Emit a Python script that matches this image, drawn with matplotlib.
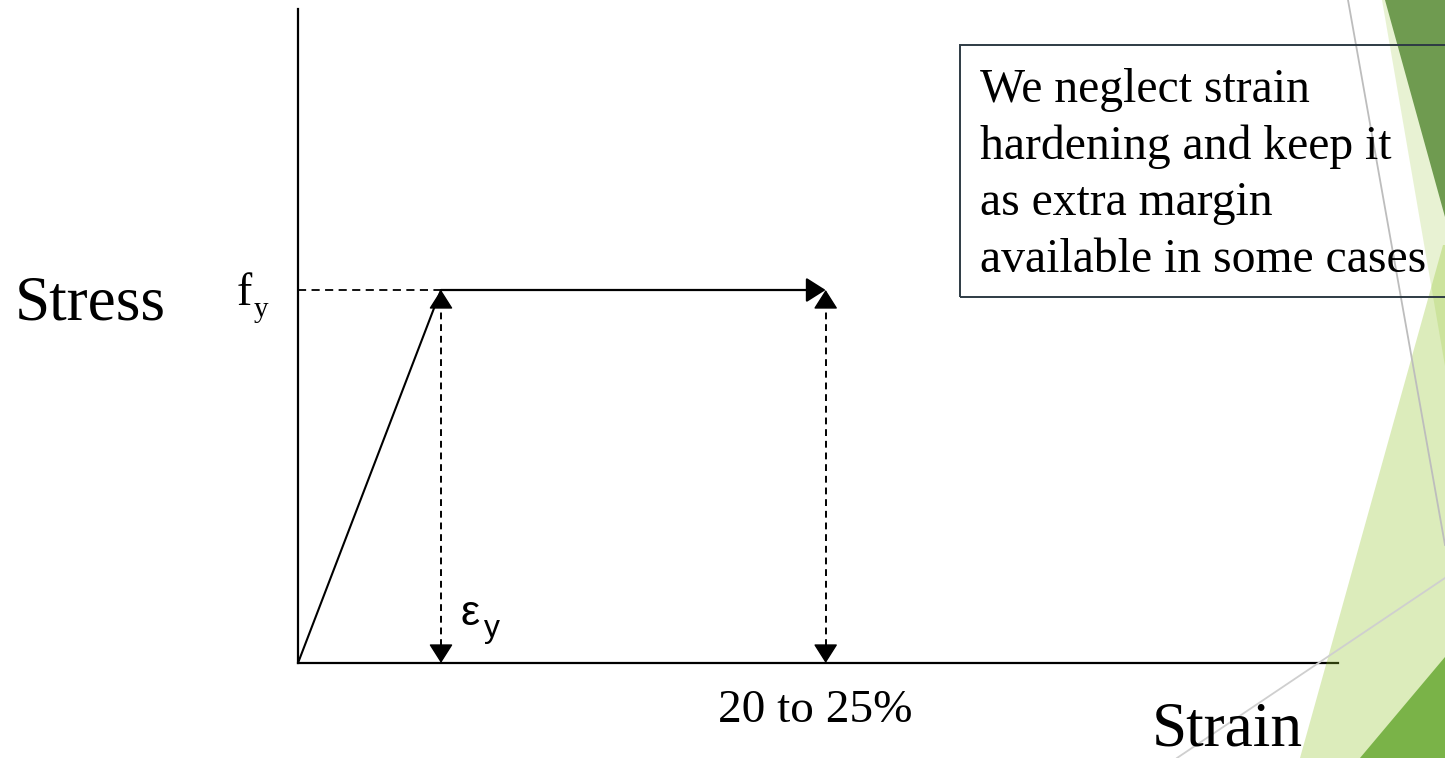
import matplotlib
matplotlib.use("Agg")
import matplotlib.pyplot as plt
from matplotlib.patches import Polygon, Rectangle

# idealised elastic-perfectly-plastic curve (schematic units)
strain = [0.0, 1.0, 3.69]      # origin, yield strain, end of plateau
stress = [0.0, 1.0, 1.0]       # origin, f_y, f_y
yield_strain = strain[1]
end_strain = strain[2]
yield_stress = stress[1]

note_lines = ["We neglect strain",
              "hardening and keep it",
              "as extra margin",
              "available in some cases"]

W, H = 1445, 758
fig = plt.figure(figsize=(W / 100, H / 100), dpi=100)
fig.patch.set_facecolor("white")

def fx(px):
    return px / W

def fy(py):
    return 1 - py / H

# slide decoration on the right edge
deco = [
    ([(1300, 758), (1443, 245), (1445, 245), (1445, 758)], "#90C226", 0.31),
    ([(1382, 0), (1445, 0), (1445, 366)], "#90C226", 0.2),
    ([(1385, 0), (1445, 0), (1445, 217)], "#6F9B50", 1.0),
    ([(1360, 758), (1445, 657), (1445, 758)], "#7AB348", 1.0),
]
for pts, col, a in deco:
    fig.patches.append(Polygon([(fx(x), fy(y)) for x, y in pts], closed=True,
                               transform=fig.transFigure, facecolor=col,
                               edgecolor="none", alpha=a, zorder=0))
for (x0, y0), (x1, y1), col in [((1348, 0), (1445, 545), "#BDBDBD"),
                                ((1177, 758), (1445, 578), "#CFCFCF")]:
    fig.add_artist(plt.Line2D([fx(x0), fx(x1)], [fy(y0), fy(y1)],
                              transform=fig.transFigure, color=col, lw=1.3, zorder=1))

# axes laid over the whole figure, origin of the diagram at (298, 663) px
ax = fig.add_axes([0, 0, 1, 1])
ax.patch.set_alpha(0)
ax.set_xlim(-298 / 143, (W - 298) / 143)
ax.set_ylim(-(H - 663) / 373, 663 / 373)
ax.set_xticks([])
ax.set_yticks([])
for side in ["top", "right"]:
    ax.spines[side].set_visible(False)
for side in ["left", "bottom"]:
    ax.spines[side].set_position(("data", 0))
    ax.spines[side].set_linewidth(1.6)
    ax.spines[side].set_color("black")
ax.spines["left"].set_bounds(0, 1.753)
ax.spines["bottom"].set_bounds(0, 7.27)

head = dict(arrowstyle="-|>,head_length=0.6,head_width=0.38", mutation_scale=20,
            color="black", shrinkA=0, shrinkB=0)

# elastic branch and plastic plateau
ax.plot(strain[:2], stress[:2], color="black", lw=1.5, solid_capstyle="butt")
ax.annotate("", xy=(end_strain, yield_stress), xytext=(yield_strain, yield_stress),
            arrowprops=dict(lw=1.6, **head))
ax.plot([0, yield_strain], [yield_stress, yield_stress], color="black", lw=1.3,
        ls=(0, (4.5, 3)))

# dashed dimension arrows down to the strain axis
tip = 0.045
for x in [yield_strain, end_strain]:
    ax.plot([x, x], [tip, yield_stress - tip], color="black", lw=1.4,
            ls=(0, (3.5, 2.5)))
    ax.annotate("", xy=(x, 0), xytext=(x, tip), arrowprops=dict(lw=1.0, **head))
    ax.annotate("", xy=(x, yield_stress), xytext=(x, yield_stress - tip),
                arrowprops=dict(lw=1.0, **head))

serif = "Liberation Serif"
sans = "Liberation Sans"
fig.text(fx(15), fy(320), "Stress", fontsize=45.5, family=serif, va="baseline")
fig.text(fx(1152), fy(746), "Strain", fontsize=45.5, family=serif, va="baseline")
fig.text(fx(815), fy(722), "20 to 25%", fontsize=34, family=serif,
         va="baseline", ha="center")
fig.text(fx(237), fy(305), "f", fontsize=33, family=serif, va="baseline")
fig.text(fx(254), fy(317), "y", fontsize=21, family=serif, va="baseline")
fig.text(fx(460), fy(625), "\u03b5", fontsize=31, family=sans, va="baseline")
fig.text(fx(484), fy(637), "y", fontsize=23, family=sans, va="baseline")

# note box, running off the right edge
fig.patches.append(Rectangle((fx(960), fy(297)), fx(500), fy(45) - fy(297),
                             transform=fig.transFigure, fill=False,
                             edgecolor="#2E3B44", lw=1.4, zorder=3))
for i, line in enumerate(note_lines):
    fig.text(fx(980), fy(102 + 56.7 * i), line, fontsize=34.3, family=serif,
             va="baseline", zorder=4)

fig.savefig("out.png", dpi=100, facecolor="white")
